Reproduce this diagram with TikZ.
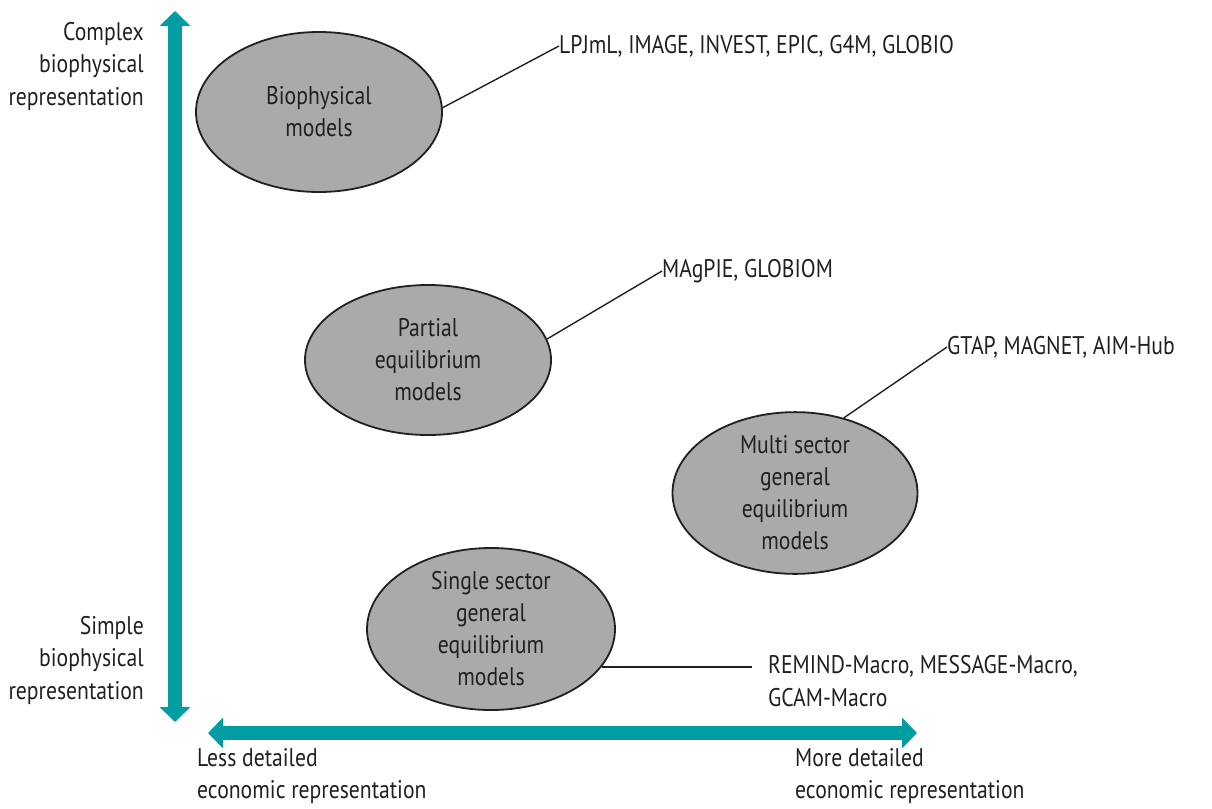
\documentclass[tikz,border=0pt]{standalone}
\usepackage{fontspec}
\setmainfont[FakeStretch=0.85]{PT Sans}
\usetikzlibrary{arrows.meta,shapes.geometric}
\definecolor{axisteal}{RGB}{0,158,163}
\definecolor{ink}{RGB}{35,31,32}
\definecolor{blob}{RGB}{170,170,170}

\begin{document}
\begin{tikzpicture}[x=1pt,y=-1pt,
  model/.style={ellipse, draw=ink, line width=1.8pt, fill=blob, inner sep=0pt,
    align=center, text=ink, font=\fontsize{25.5}{32}\selectfont},
  lbl/.style={text=ink, font=\fontsize{25.5}{32.5}\selectfont, inner sep=0pt},
  lead/.style={draw=ink, line width=1.4pt},
  axis/.style={draw=axisteal, line width=14pt,
    {Triangle[width=30pt,length=15pt]}-{Triangle[width=30pt,length=15pt]}}]

\useasboundingbox (0,0) rectangle (1212,808);

% axes
\coordinate (ytop) at (175,11);
\coordinate (ybot) at (175,722);
\coordinate (xleft) at (208,733);
\coordinate (xright) at (917,733);
\draw[axis] (ybot) -- (ytop);
\draw[axis] (xleft) -- (xright);

% axis captions
\node[lbl, align=right, anchor=east] (cplx) at (144,66) {Complex\\biophysical\\representation};
\node[lbl, align=right, anchor=east] (smpl) at (144,660) {Simple\\biophysical\\representation};
\node[lbl, align=left, anchor=west] (less) at (197,776) {Less detailed\\economic representation};
\node[lbl, align=left, anchor=west] (more) at (795,776) {More detailed\\economic representation};

% model families
\node[model, minimum width=246pt, minimum height=160pt] (bio) at (319,112) {Biophysical\\models};
\node[model, minimum width=246pt, minimum height=150pt] (pe) at (428,360) {Partial\\equilibrium\\models};
\node[model, minimum width=245pt, minimum height=159pt] (multi) at (795,493) {Multi sector\\general\\equilibrium\\models};
\node[model, minimum width=248pt, minimum height=162pt] (single) at (491,629) {Single sector\\general\\equilibrium\\models};

% model names
\node[lbl, anchor=west] (bionames) at (559,46) {LPJmL, IMAGE, INVEST, EPIC, G4M, GLOBIO};
\node[lbl, anchor=west] (penames) at (662,271) {MAgPIE, GLOBIOM};
\node[lbl, anchor=west] (multinames) at (947,347) {GTAP, MAGNET, AIM-Hub};
\node[lbl, align=left, anchor=west] (singlenames) at (768,681) {REMIND-Macro, MESSAGE-Macro,\\GCAM-Macro};
\coordinate (singleend) at (752,667);

% leader lines
\draw[lead] (bio.2) -- (bionames.west);
\draw[lead] (pe.10) -- (penames.west);
\draw[lead] (multi.57) -- (multinames.west);
\draw[lead] (single.-19) -- (single.-19 -| singleend);
\end{tikzpicture}
\end{document}
